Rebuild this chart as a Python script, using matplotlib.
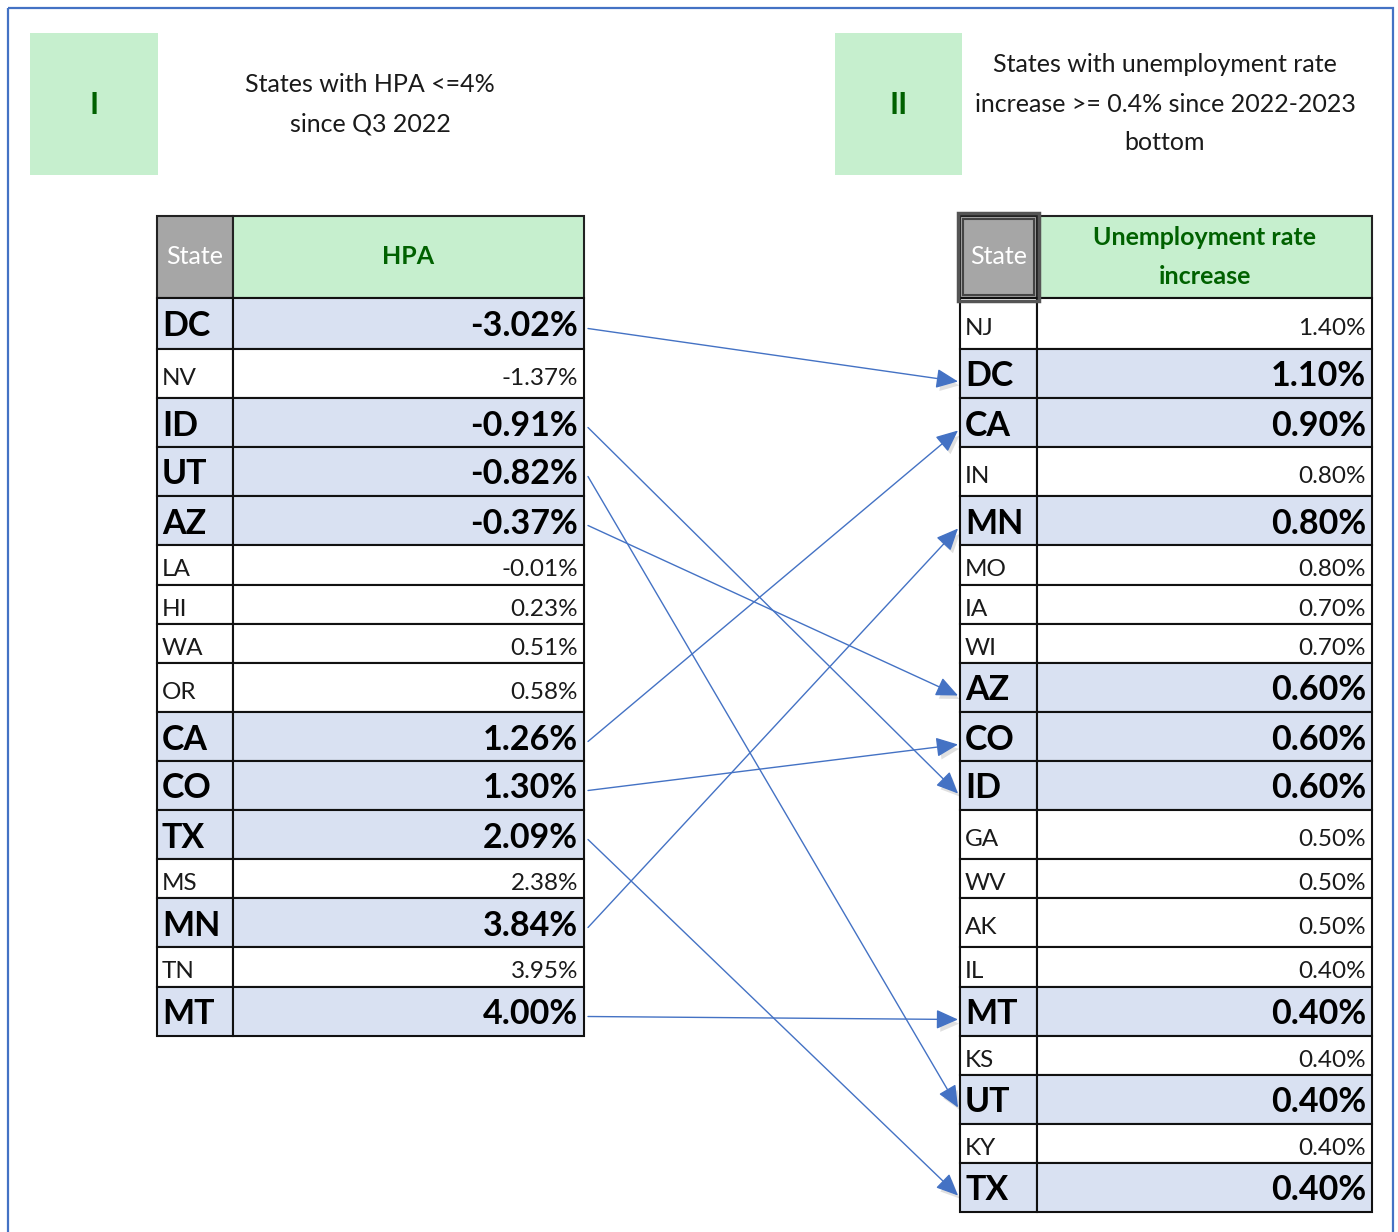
import matplotlib
matplotlib.use("Agg")
import matplotlib.pyplot as plt
from matplotlib.patches import Rectangle
import matplotlib.patheffects as pe

# ---------------- data ----------------
left_states = ["DC", "NV", "ID", "UT", "AZ", "LA", "HI", "WA", "OR", "CA", "CO", "TX", "MS", "MN", "TN", "MT"]
left_values = [-3.02, -1.37, -0.91, -0.82, -0.37, -0.01, 0.23, 0.51, 0.58, 1.26, 1.30, 2.09, 2.38, 3.84, 3.95, 4.00]

right_states = ["NJ", "DC", "CA", "IN", "MN", "MO", "IA", "WI", "AZ", "CO", "ID", "GA", "WV", "AK", "IL", "MT", "KS", "UT", "KY", "TX"]
right_values = [1.40, 1.10, 0.90, 0.80, 0.80, 0.80, 0.70, 0.70, 0.60, 0.60, 0.60, 0.50, 0.50, 0.50, 0.40, 0.40, 0.40, 0.40, 0.40, 0.40]

title_left = ["States with HPA <=4%", "since Q3 2022"]
title_right = ["States with unemployment rate", "increase >= 0.4% since 2022-2023", "bottom"]
header_left = ["HPA"]
header_right = ["Unemployment rate", "increase"]

# states present in both lists are highlighted and linked
common = [s for s in left_states if s in right_states]

# ---------------- layout / style ----------------
W, H = 1398, 1232
FONT = ["Lato", "DejaVu Sans"]
GREEN_FILL = "#C6EFCE"
GREEN_TXT = "#006100"
GREY = "#A6A6A6"
HILITE = "#D9E1F2"
BLUE = "#4472C4"
LW = 1.5
FS_NORMAL = 17.5
FS_BOLD = 24.5
FS_TITLE = 18

# row heights (pixels) - pattern of the spreadsheet rows
row_h = [51, 49, 49, 49, 49, 40, 39, 39, 49, 49, 49, 49, 39, 49, 40, 49, 39, 49, 39, 49]

fig = plt.figure(figsize=(W / 100, H / 100), dpi=100)
ax = fig.add_axes([0, 0, 1, 1])
ax.set_xlim(0, W)
ax.set_ylim(H, 0)
ax.axis("off")

# outer blue frame
ax.add_patch(Rectangle((8, 8), 1385, 1300, fill=False, edgecolor=BLUE, lw=1.6, zorder=1))

# green label boxes
for (x0, x1, lab) in [(30, 158, "I"), (835, 962, "II")]:
    ax.add_patch(Rectangle((x0, 33), x1 - x0, 142, facecolor=GREEN_FILL, edgecolor="none", zorder=1))
    ax.text((x0 + x1) / 2, 105, lab, ha="center", va="center", fontsize=22, fontweight="bold",
            color=GREEN_TXT, family=FONT)

for i, line in enumerate(title_left):
    ax.text(370, 85 + 39 * i, line, ha="center", va="center", fontsize=FS_TITLE, color="#1a1a1a", family=FONT)
for i, line in enumerate(title_right):
    ax.text(1165, 65 + 39 * i, line, ha="center", va="center", fontsize=FS_TITLE, color="#1a1a1a", family=FONT)


def fmt(v):
    return f"{v:.2f}%"


def draw_table(x0, xdiv, x1, states, values, header_lines, double_state=False):
    ytop, yhead = 216, 298
    # header
    ax.add_patch(Rectangle((x0, ytop), xdiv - x0, yhead - ytop, facecolor=GREY, edgecolor="#222222", lw=LW, zorder=2))
    if double_state:
        ax.add_patch(Rectangle((x0 - 2, ytop - 3), xdiv - x0 + 4, yhead - ytop + 6, fill=False,
                               edgecolor="#555555", lw=2.5, zorder=3))
        ax.add_patch(Rectangle((x0 + 3, ytop + 3), xdiv - x0 - 6, yhead - ytop - 6, fill=False,
                               edgecolor="#444444", lw=1.5, zorder=3))
    ax.add_patch(Rectangle((xdiv, ytop), x1 - xdiv, yhead - ytop, facecolor=GREEN_FILL, edgecolor="#222222", lw=LW, zorder=2))
    ax.text((x0 + xdiv) / 2, (ytop + yhead) / 2, "State", ha="center", va="center", fontsize=18,
            color="white", family=FONT, zorder=4)
    n = len(header_lines)
    for i, line in enumerate(header_lines):
        yy = (ytop + yhead) / 2 + (i - (n - 1) / 2) * 39
        ax.text((xdiv + x1) / 2, yy, line, ha="center", va="center", fontsize=18, fontweight="bold",
                color=GREEN_TXT, family=FONT, zorder=4)
    centers = {}
    y = yhead
    for i, (s, v) in enumerate(zip(states, values)):
        h = row_h[i]
        hl = s in common
        fc = HILITE if hl else "white"
        ax.add_patch(Rectangle((x0, y), xdiv - x0, h, facecolor=fc, edgecolor="#111111", lw=LW, zorder=2))
        ax.add_patch(Rectangle((xdiv, y), x1 - xdiv, h, facecolor=fc, edgecolor="#111111", lw=LW, zorder=2))
        if hl:
            ax.text(x0 + 5, y + h / 2 + 3, s, ha="left", va="center", fontsize=FS_BOLD, fontweight="bold",
                    color="black", family=FONT, zorder=4)
            ax.text(x1 - 6, y + h / 2 + 3, fmt(v), ha="right", va="center", fontsize=FS_BOLD, fontweight="bold",
                    color="black", family=FONT, zorder=4)
        else:
            ax.text(x0 + 5, y + h / 2 + 5, s, ha="left", va="center", fontsize=FS_NORMAL, color="#1a1a1a",
                    family=FONT, zorder=4)
            ax.text(x1 - 6, y + h / 2 + 5, fmt(v), ha="right", va="center", fontsize=FS_NORMAL, color="#1a1a1a",
                    family=FONT, zorder=4)
        centers[s] = y + h / 2
        y += h
    return centers


lc = draw_table(157, 233, 584, left_states, left_values, header_left)
rc = draw_table(960, 1037, 1372, right_states, right_values, header_right, double_state=True)

# arrows linking the common states
for s in common:
    ann = ax.annotate("", xy=(958, rc[s] + 8), xytext=(588, lc[s] + 5),
                      arrowprops=dict(arrowstyle="-|>,head_length=0.9,head_width=0.4", color=BLUE, lw=1.0,
                                      shrinkA=0, shrinkB=0, mutation_scale=15),
                      zorder=5)
    ann.arrow_patch.set_path_effects([pe.SimplePatchShadow(offset=(2, -3), alpha=0.12, shadow_rgbFace="black"),
                                      pe.Normal()])

fig.savefig("out.png", dpi=100)
